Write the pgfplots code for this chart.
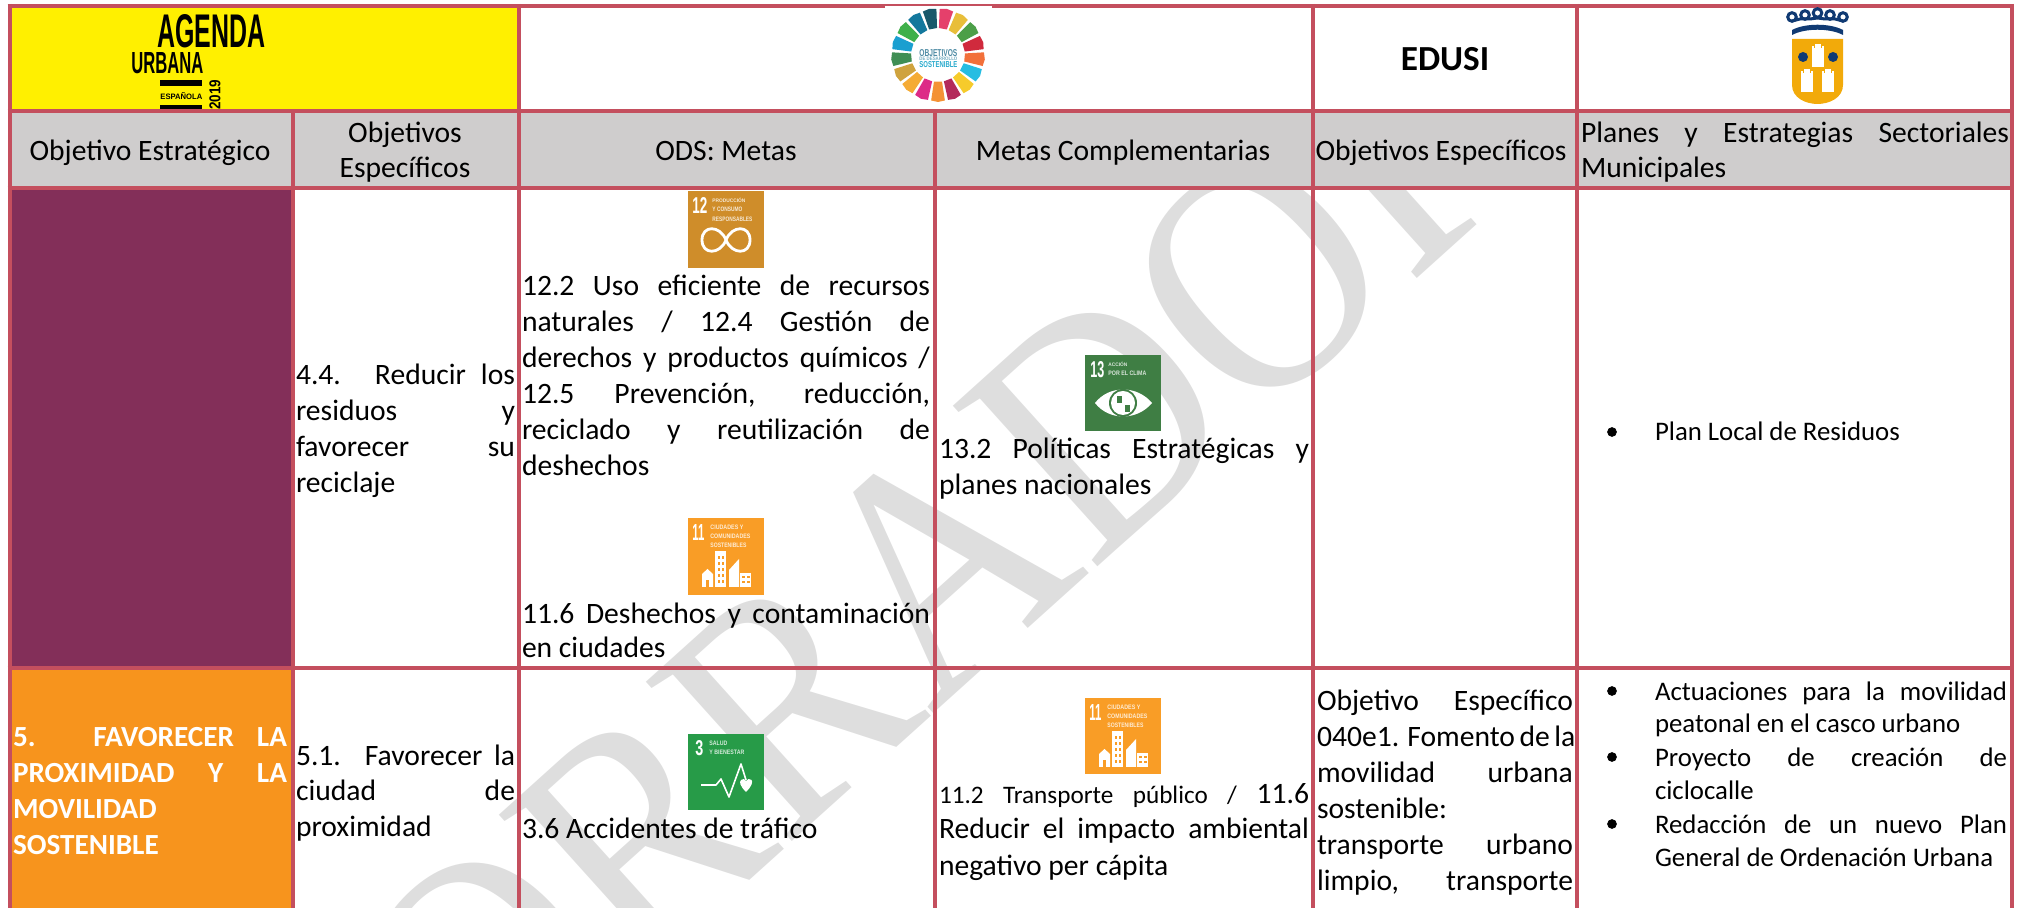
\documentclass[border=0pt]{standalone}
\usepackage{fontspec}
\usepackage{graphicx}
\usepackage{pgfplots}
\pgfplotsset{compat=1.18}
\setmainfont{Carlito}
\newfontfamily\wmfont{Liberation Serif}
\newfontfamily\hel{Liberation Sans}
\definecolor{bord}{RGB}{196,79,94}
\definecolor{hgray}{RGB}{207,205,205}
\definecolor{yell}{RGB}{255,240,0}
\definecolor{purp}{RGB}{131,47,89}
\definecolor{oran}{RGB}{247,148,29}
\definecolor{wm}{RGB}{222,222,222}
\definecolor{navy}{RGB}{16,58,115}
\definecolor{gold}{RGB}{242,170,10}
\definecolor{s12}{RGB}{207,141,42}
\definecolor{s11}{RGB}{249,157,38}
\definecolor{s3}{RGB}{39,155,72}
\definecolor{s13}{RGB}{63,126,68}
\definecolor{g1}{HTML}{E5406B}\definecolor{g2}{HTML}{E8BE3A}\definecolor{g3}{HTML}{4C9F48}
\definecolor{g4}{HTML}{D02A3D}\definecolor{g5}{HTML}{F2703A}\definecolor{g6}{HTML}{26BDE2}
\definecolor{g7}{HTML}{F6CB2B}\definecolor{g8}{HTML}{B42A5A}\definecolor{g9}{HTML}{F49235}
\definecolor{g10}{HTML}{DD2B87}\definecolor{g11}{HTML}{F5AB34}\definecolor{g12}{HTML}{CFA33E}
\definecolor{g13}{HTML}{3F8E54}\definecolor{g14}{HTML}{1A9FD0}\definecolor{g15}{HTML}{3FB04B}
\definecolor{g16}{HTML}{13789D}\definecolor{g17}{HTML}{19586A}
\newcommand\bodyf{\fontsize{14.8}{16}\selectfont}
\newcommand\smf{\fontsize{13.4}{14}\selectfont}
\newcommand\bdf{\fontsize{14.6}{16}\selectfont\bfseries}
\tikzset{tl/.style={anchor=base west,inner sep=0pt,outer sep=0pt,font=\bodyf},
 tc/.style={anchor=base,inner sep=0pt,outer sep=0pt,font=\bodyf}}
% justified line: x, baseline, width, text
\newcommand\JL[4]{\node[tl] at (axis cs:#1,#2) {\makebox[\dimexpr#3pt/2\relax][s]{#4}};}
\newcommand\LL[3]{\node[tl] at (axis cs:#1,#2) {#3};}
\newcommand\CL[3]{\node[tc] at (axis cs:#1,#2) {#3};}
\newcommand\SJ[4]{\node[tl] at (axis cs:#1,#2) {\smf\makebox[\dimexpr#3pt/2\relax][s]{#4}};}
\newcommand\SL[3]{\node[tl] at (axis cs:#1,#2) {\smf #3};}
\newcommand\BJ[4]{\node[tl,text=white] at (axis cs:#1,#2) {\bdf\makebox[\dimexpr#3pt/2\relax][s]{#4}};}
\newcommand\BL[3]{\node[tl,text=white] at (axis cs:#1,#2) {\bdf #3};}
\newcommand\RC[5]{\addplot[fill=#5,draw=none] coordinates {(#1,#2)(#3,#2)(#3,#4)(#1,#4)} --cycle;}
\newcommand\HL[3]{\addplot[bord,line width=2pt] coordinates {(#1,#3)(#2,#3)};}
\newcommand\VL[3]{\addplot[bord,line width=2pt] coordinates {(#1,#2)(#1,#3)};}
% tiny squeezed text: x west, y centre, width px, height px, text
\newcommand\TT[6][white]{\node[anchor=west,inner sep=0pt,text=#1] at (#2,#3) {\resizebox{\dimexpr#4pt/2\relax}{\dimexpr#5pt/2\relax}{\hel\bfseries #6}};}
\begin{document}
\begin{tikzpicture}
\begin{axis}[at={(0pt,0pt)},anchor=south west,scale only axis,width=1012pt,height=454pt,
  xmin=0,xmax=2024,ymin=0,ymax=908,y dir=reverse,hide axis,clip=true]
% watermark
\node[rotate=42,text=wm,inner sep=0pt] at (axis cs:872,625) {\scalebox{0.90}[1]{\wmfont\fontsize{165}{165}\selectfont BORRADOR}};
% cell fills
\RC{0}{0}{2024}{111}{white}
\RC{9}{6}{518}{111}{yell}
\RC{9}{111}{2012}{188}{hgray}
\RC{9}{188}{292}{668}{purp}
\RC{9}{668}{292}{908}{oran}
% icon plates
\RC{688}{191}{764}{268}{s12}
\RC{688}{518}{764}{595}{s11}
\RC{688}{734}{764}{810}{s3}
\RC{1085}{355}{1161}{431}{s13}
\RC{1085}{698}{1161}{774}{s11}
% grid
\HL{7.5}{2014}{6}
\HL{7.5}{2014}{111}
\HL{7.5}{2014}{188}
\HL{7.5}{2014}{668}
\VL{9.5}{4}{908}
\VL{292.5}{111}{908}
\VL{518.8}{4}{908}
\VL{935}{111}{908}
\VL{1313}{4}{908}
\VL{1577}{4}{908}
\VL{2012}{4}{908}
% bullets
\addplot[only marks,mark=*,mark size=2.2pt,mark options={fill=black,draw=black}] coordinates {(1612,432)(1612,691)(1612,757)(1612,824)};
% header
\node[anchor=base,inner sep=0pt,font=\fontsize{17.6}{18}\selectfont\bfseries] at (axis cs:1445,71) {EDUSI};
\CL{150}{161}{Objetivo Estratégico}
\CL{405}{143}{Objetivos}
\CL{405}{178}{Específicos}
\CL{726}{161}{ODS: Metas}
\CL{1123}{161}{Metas Complementarias}
\CL{1441}{161}{Objetivos Específicos}
\JL{1581}{143}{428}{Planes y Estrategias Sectoriales}
\LL{1581}{178}{Municipales}
% row 2
\JL{296}{385}{219}{4.4. Reducir los}
\JL{296}{421}{219}{residuos y}
\JL{296}{457}{219}{favorecer su}
\LL{296}{493}{reciclaje}
\JL{522}{296}{408}{12.2 Uso eficiente de recursos}
\JL{522}{332}{408}{naturales / 12.4 Gestión de}
\JL{522}{368}{408}{derechos y productos químicos /}
\JL{522}{404}{408}{12.5 Prevención, reducción,}
\JL{522}{440}{408}{reciclado y reutilización de}
\LL{522}{476}{deshechos}
\JL{522}{624}{408}{11.6 Deshechos y contaminación}
\LL{522}{658}{en ciudades}
\JL{939}{459}{370}{13.2 Políticas Estratégicas y}
\LL{939}{495}{planes nacionales}
\SL{1655}{441}{Plan Local de Residuos}
% row 3
\BJ{13}{746}{274}{5. FAVORECER LA}
\BJ{13}{782}{274}{PROXIMIDAD Y LA}
\BL{13}{818}{MOVILIDAD}
\BL{13}{854}{SOSTENIBLE}
\JL{296}{765}{219}{5.1. Favorecer la}
\JL{296}{800}{219}{ciudad de}
\LL{296}{836}{proximidad}
\LL{522}{838}{3.6 Accidentes de tráfico}
\node[tl] at (axis cs:939,803) {\makebox[185pt][s]{\fontsize{12.6}{14}\selectfont 11.2 Transporte público / \bodyf 11.6}};
\JL{939}{838}{370}{Reducir el impacto ambiental}
\LL{939}{875}{negativo per cápita}
\JL{1317}{711}{256}{Objetivo Específico}
\JL{1317}{746}{256}{040e1. Fomento de la}
\JL{1317}{782}{256}{movilidad urbana}
\LL{1317}{818}{sostenible:}
\JL{1317}{854}{256}{transporte urbano}
\JL{1317}{890}{256}{limpio, transporte}
\SJ{1655}{700}{352}{Actuaciones para la movilidad}
\SL{1655}{732}{peatonal en el casco urbano}
\SJ{1655}{766}{352}{Proyecto de creación de}
\SL{1655}{799}{ciclocalle}
\SJ{1655}{833}{352}{Redacción de un nuevo Plan}
\SL{1655}{866}{General de Ordenación Urbana}
\end{axis}
% logos and pictograms, in the same pixel coordinates
\begin{scope}[yshift=454pt,x=0.5pt,y=-0.5pt]
% Agenda Urbana
\TT[black]{157}{31}{108}{33}{AGENDA}
\TT[black]{131}{63}{72}{21}{URBANA}
\fill[black] (160,80) rectangle (202,86);
\fill[black] (160,105) rectangle (202,109);
\TT[black]{160}{96}{42}{7}{ESPAÑOLA}
\node[rotate=90,inner sep=0pt] at (215,95) {\resizebox{15pt}{5.5pt}{\hel\bfseries 2019}};
% SDG wheel
\fill[white] (885,6.5) rectangle (992,9);
\begin{scope}[shift={(938,55)}]
\foreach \i in {1,...,17}{
  \pgfmathsetmacro\aa{-90+(\i-1)*360/17+2}
  \pgfmathsetmacro\ab{-90+\i*360/17-2}
  \pgfmathsetmacro\am{(\aa+\ab)/2}
  \fill[g\i] (\aa:27) -- (\aa:46) -- (\am:47) -- (\ab:46) -- (\ab:27) -- cycle;
}
\end{scope}
\definecolor{w1}{RGB}{80,140,165}
\definecolor{w2}{RGB}{120,175,195}
\definecolor{w3}{RGB}{40,170,205}
\TT[w1]{919}{53}{38}{7}{OBJETIVOS}
\TT[w2]{919}{59}{38}{3.5}{DE DESARROLLO}
\TT[w3]{919}{65}{38}{6}{SOSTENIBLE}
% crest
\fill[navy] (1792,35) -- (1792,30) .. controls (1805,23) and (1830,23) .. (1843,30) -- (1843,35) .. controls (1830,28) and (1805,28) .. (1792,35) -- cycle;
\foreach \x/\yy in {1792/17,1805/15,1817.5/13,1830/15,1843/17}{
 \draw[navy,line width=1.5pt] (\x,\yy) circle (4.3);
}
\draw[navy,line width=1.5pt] (1792,21) -- (1800,19) -- (1810,19) -- (1817.5,18) -- (1825,19) -- (1835,19) -- (1843,21);
\fill[gold] (1792,39) -- (1843,39) -- (1843,85) .. controls (1843,98) and (1829,104) .. (1817.5,104) .. controls (1806,104) and (1792,98) .. (1792,85) -- cycle;
\fill[navy] (1803,57) circle (5);
\fill[navy] (1833,57) circle (5);
\foreach \cx/\ty/\by/\hw in {1818/48/67/6,1807/73/92/6,1828/73/92/6}{
  \fill[white] (\cx-\hw,\by) rectangle (\cx+\hw,\ty);
  \fill[white] (\cx-3,\ty+1) rectangle (\cx+3,\ty-4);
  \fill[white] (\cx-6,\ty) rectangle (\cx-4,\ty-2);
  \fill[white] (\cx+4,\ty) rectangle (\cx+6,\ty-2);
}
% SDG 12
\begin{scope}[shift={(688,191)}]
\TT{4}{15}{15}{16}{12}
\begin{scope}[opacity=.8]
\TT{24}{9}{33}{4.5}{PRODUCCIÓN}
\TT{24}{18.5}{30}{4.5}{Y CONSUMO}
\TT{24}{28}{40}{4.5}{RESPONSABLES}
\end{scope}
\draw[white,line width=1.4pt] (38,49) .. controls (32,34) and (14,34) .. (14,49) .. controls (14,64) and (32,64) .. (38,49) .. controls (44,34) and (62,34) .. (62,49) .. controls (62,64) and (44,64) .. (38,49);
\end{scope}
% SDG 11 (two)
\foreach \ox/\oy in {688/518,1085/698}{
\begin{scope}[shift={(\ox,\oy)}]
\TT{4}{15}{12}{16}{11}
\begin{scope}[opacity=.8]
\TT{22}{9}{33}{4.5}{CIUDADES Y}
\TT{22}{18.5}{40}{4.5}{COMUNIDADES}
\TT{22}{27.5}{36}{4.5}{SOSTENIBLES}
\end{scope}
\fill[white] (27,33) rectangle (38,69);
\fill[white] (14,69) -- (14,56) -- (19.5,51) -- (25,56) -- (25,69) -- cycle;
\fill[white] (41,69) -- (41,52) -- (51,41) -- (51,69) -- cycle;
\fill[white] (52,55) rectangle (63,69);
\foreach \yy in {38,44,50,56,62}{\fill[s11] (29.5,\yy) rectangle (32,\yy+3); \fill[s11] (33.5,\yy) rectangle (36,\yy+3);}
\foreach \yy in {58,63}{\fill[s11] (54,\yy) rectangle (57,\yy+2.5); \fill[s11] (58.5,\yy) rectangle (61.5,\yy+2.5);}
\fill[s11] (18,62) rectangle (21,69);
\end{scope}}
% SDG 3
\begin{scope}[shift={(688,734)}]
\TT{7}{14}{8}{15}{3}
\begin{scope}[opacity=.8]
\TT{21}{9}{18}{4.5}{SALUD}
\TT{21}{18.5}{35}{4.5}{Y BIENESTAR}
\end{scope}
\draw[white,line width=0.8pt,line join=round] (13,51) -- (28,51) -- (33,45) -- (41,63) -- (53,30) -- (58,46);
\fill[white] (58,58) .. controls (52,52) and (51,48) .. (53,46) .. controls (55,44) and (57,45) .. (58,47) .. controls (59,45) and (62,44) .. (63.5,46) .. controls (65,48) and (64,52) .. (58,58) -- cycle;
\end{scope}
% SDG 13
\begin{scope}[shift={(1085,355)}]
\TT{5}{15}{14}{16}{13}
\begin{scope}[opacity=.8]
\TT{23}{9}{19}{4.5}{ACCIÓN}
\TT{23}{18.5}{38}{4.5}{POR EL CLIMA}
\end{scope}
\fill[white] (10,48) .. controls (24,30) and (52,30) .. (67,48) .. controls (52,66) and (24,66) .. (10,48) -- cycle;
\fill[s13] (38,48) circle (14);
\fill[white] (38,48) circle (12);
\fill[s13] (32,41) rectangle (37,48);
\fill[s13] (40,50) rectangle (45,57);
\end{scope}
\end{scope}
\pgfresetboundingbox
\useasboundingbox (0,0) rectangle (1012pt,454pt);
\end{tikzpicture}
\end{document}
